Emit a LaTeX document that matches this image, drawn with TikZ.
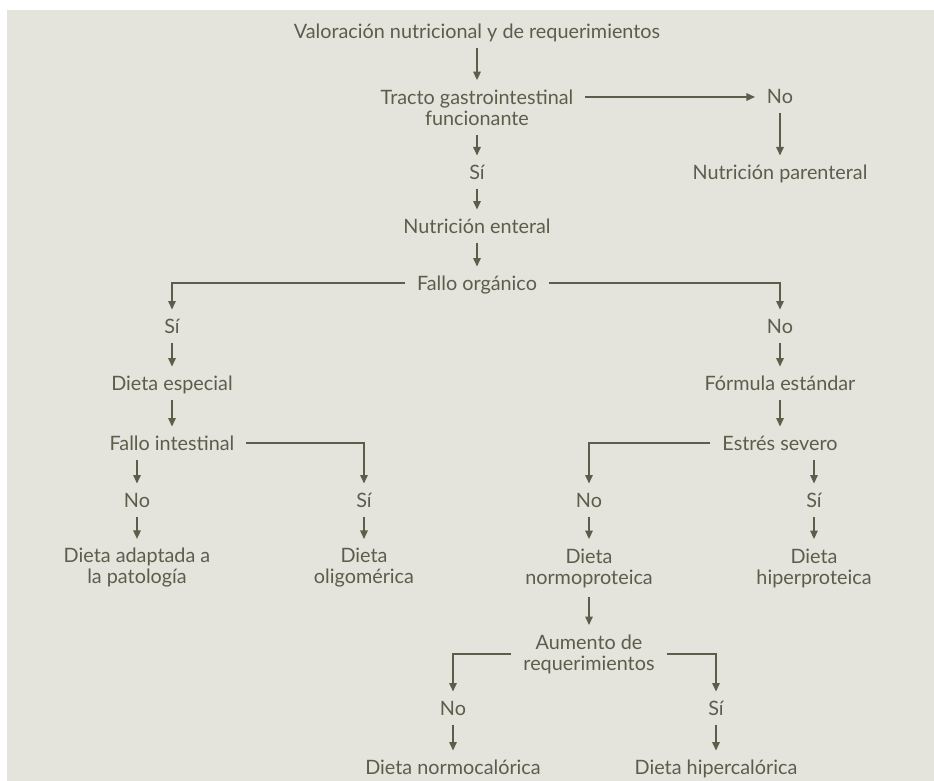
\documentclass[tikz,border=0pt]{standalone}
\usepackage{fontspec}
\setmainfont{Lato}
\usetikzlibrary{arrows.meta,positioning}
\definecolor{nutbg}{HTML}{E4E3DC}
\definecolor{nutink}{HTML}{5E5D4C}
\tikzset{
  lbl/.style={align=center,text=nutink,inner xsep=12pt,inner ysep=9.5pt,outer sep=0pt,font=\fontsize{19.8}{21}\selectfont},
  lbl1/.style={lbl,text height=14pt,text depth=0pt},
  ar/.style={-{Triangle[length=8.5pt,width=7.5pt]},draw=nutink,line width=1.5pt},
}
\begin{document}
\begin{tikzpicture}[x=1pt,y=-1pt]
\useasboundingbox (0,0) rectangle (934,781);
\fill[nutbg] (7,10) rectangle (934,781);
% main column
\node[lbl1] (val) at (477,32) {Valoración nutricional y de requerimientos};
\node[lbl] (tracto) at (477,107.5) {Tracto gastrointestinal\\funcionante};
\node[lbl1] (no1) at (780,97) {No};
\node[lbl1] (paren) at (780,172) {Nutrición parenteral};
\node[lbl1] (si1) at (477,172) {Sí};
\node[lbl1] (enteral) at (477,226) {Nutrición enteral};
\node[lbl1] (forg) at (477,283) {Fallo orgánico};
% left branch
\node[lbl1] (si2) at (172,326) {Sí};
\node[lbl1] (especial) at (172,383) {Dieta especial};
\node[lbl1] (fint) at (172,443) {Fallo intestinal};
\node[lbl1] (no3) at (137,500) {No};
\node[lbl] (adapt) at (137,568) {Dieta adaptada a\\la patología};
\node[lbl1] (si3) at (364,500) {Sí};
\node[lbl] (oligo) at (364,568) {Dieta\\oligomérica};
% right branch
\node[lbl1] (no2) at (780,326) {No};
\node[lbl1] (formula) at (780,383) {Fórmula estándar};
\node[lbl1] (estres) at (780,443) {Estrés severo};
\node[lbl1] (no4) at (589,500) {No};
\node[lbl] (normo) at (589,568) {Dieta\\normoproteica};
\node[lbl1] (si4) at (814,500) {Sí};
\node[lbl] (hiper) at (814,568) {Dieta\\hiperproteica};
\node[lbl] (aum) at (589,654) {Aumento de\\requerimientos};
\node[lbl1] (no5) at (453,708) {No};
\node[lbl1] (normocal) at (453,767) {Dieta normocalórica};
\node[lbl1] (si5) at (716,708) {Sí};
\node[lbl1] (hipercal) at (716,767) {Dieta hipercalórica};
% connectors
\draw[ar] (val) -- (tracto);
\draw[ar] ([yshift=10.5pt]tracto.east) -- ([yshift=10.5pt]tracto.east -| no1.west);
\draw[ar] (no1) -- (paren);
\draw[ar] (tracto) -- (si1);
\draw[ar] (si1) -- (enteral);
\draw[ar] (enteral) -- (forg);
\draw[ar] (forg.west) -| (si2.north);
\draw[ar] (forg.east) -| (no2.north);
\draw[ar] (si2) -- (especial);
\draw[ar] (especial) -- (fint);
\draw[ar] (no3 |- fint.south) -- (no3);
\draw[ar] (fint.east) -| (si3.north);
\draw[ar] (no3) -- (adapt);
\draw[ar] (si3) -- (oligo);
\draw[ar] (no2) -- (formula);
\draw[ar] (formula) -- (estres);
\draw[ar] (estres.west) -| (no4.north);
\draw[ar] (si4 |- estres.south) -- (si4);
\draw[ar] (no4) -- (normo);
\draw[ar] (si4) -- (hiper);
\draw[ar] (normo) -- (aum);
\draw[ar] (aum.west) -| (no5.north);
\draw[ar] (aum.east) -| (si5.north);
\draw[ar] (no5) -- (normocal);
\draw[ar] (si5) -- (hipercal);
\end{tikzpicture}
\end{document}
